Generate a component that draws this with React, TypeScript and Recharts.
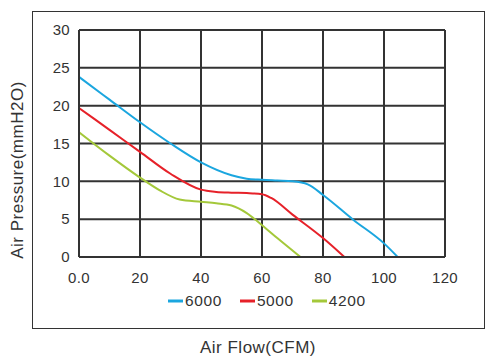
import { LineChart, Line, XAxis, YAxis, CartesianGrid } from "recharts";

// fan curves, air flow (CFM) vs static pressure (mmH2O)
const flow6000 = [0, 10, 20, 30, 40, 50, 55, 60, 65, 70, 75, 80, 90, 100, 104.5];
const pres6000 = [23.8, 20.8, 17.8, 15.0, 12.5, 10.8, 10.35, 10.2, 10.1, 10.0, 9.6, 8.2, 4.9, 1.8, 0];

const flow5000 = [0, 10, 20, 30, 40, 45, 50, 55, 60, 63, 70, 80, 87];
const pres5000 = [19.7, 16.8, 13.9, 11.0, 8.9, 8.6, 8.5, 8.45, 8.3, 7.8, 5.6, 2.5, 0];

const flow4200 = [0, 10, 20, 26.5, 33, 40, 45, 50, 55, 60, 65, 72.6];
const pres4200 = [16.5, 13.4, 10.5, 8.8, 7.6, 7.3, 7.1, 6.8, 5.8, 4.2, 2.5, 0];

const xTicks = [0, 20, 40, 60, 80, 100, 120];
const yTicks = [0, 5, 10, 15, 20, 25, 30];

const series = [
  { name: "6000", color: "#1ba6df", data: flow6000.map((x, i) => ({ x, y: pres6000[i] })) },
  { name: "5000", color: "#e62129", data: flow5000.map((x, i) => ({ x, y: pres5000[i] })) },
  { name: "4200", color: "#a4c83a", data: flow4200.map((x, i) => ({ x, y: pres4200[i] })) },
];

const font = "Arial, 'Liberation Sans', Helvetica, sans-serif";
const tick = { fontSize: 15, fill: "#333", fontFamily: font, letterSpacing: 0.3 };

export default function App() {
  return (
    <div style={{ position: "absolute", left: 0, top: 0, width: 493, height: 361, background: "#fff", fontFamily: font }}>
      <div
        style={{
          position: "absolute",
          left: 32,
          top: 11,
          width: 451,
          height: 316,
          border: "1.5px solid #333",
        }}
      />
      <div style={{ position: "absolute", left: 0, top: 0 }}>
        <LineChart width={493} height={361} margin={{ top: 30, right: 48, left: 19, bottom: 0 }}>
          <CartesianGrid stroke="#333" strokeWidth={2} horizontalValues={yTicks} verticalValues={xTicks} />
          <XAxis
            dataKey="x"
            type="number"
            domain={[0, 120]}
            ticks={xTicks}
            tickFormatter={(v) => (v === 0 ? "0.0" : String(v))}
            tick={tick}
            tickLine={false}
            axisLine={{ stroke: "#333", strokeWidth: 2 }}
            tickMargin={9}
            height={104}
            allowDataOverflow
          />
          <YAxis
            type="number"
            domain={[0, 30]}
            ticks={yTicks}
            tick={tick}
            tickLine={false}
            axisLine={{ stroke: "#333", strokeWidth: 2 }}
            tickMargin={3}
            width={60}
          />
          {series.map((s) => (
            <Line
              key={s.name}
              data={s.data}
              dataKey="y"
              name={s.name}
              type="monotone"
              stroke={s.color}
              strokeWidth={2}
              dot={false}
              isAnimationActive={false}
            />
          ))}
        </LineChart>
      </div>
      <div
        style={{
          position: "absolute",
          left: 168,
          top: 292,
          display: "flex",
          gap: 18,
          fontSize: 15.5,
          letterSpacing: 0.6,
          color: "#333",
        }}
      >
        {series.map((s) => (
          <span key={s.name} style={{ display: "flex", alignItems: "center", gap: 2 }}>
            <svg width="15" height="4">
              <line x1="0" y1="2" x2="15" y2="2" stroke={s.color} strokeWidth="3" />
            </svg>
            {s.name}
          </span>
        ))}
      </div>
      <div
        style={{
          position: "absolute",
          left: 0,
          width: 516,
          top: 338,
          textAlign: "center",
          fontSize: 17,
          letterSpacing: 0.5,
          color: "#333",
        }}
      >
        Air Flow(CFM)
      </div>
      <div
        style={{
          position: "absolute",
          left: 18,
          top: 170,
          transform: "translate(-50%, -50%) rotate(-90deg)",
          whiteSpace: "nowrap",
          fontSize: 17,
          letterSpacing: 0.5,
          color: "#333",
        }}
      >
        Air Pressure(mmH2O)
      </div>
    </div>
  );
}
